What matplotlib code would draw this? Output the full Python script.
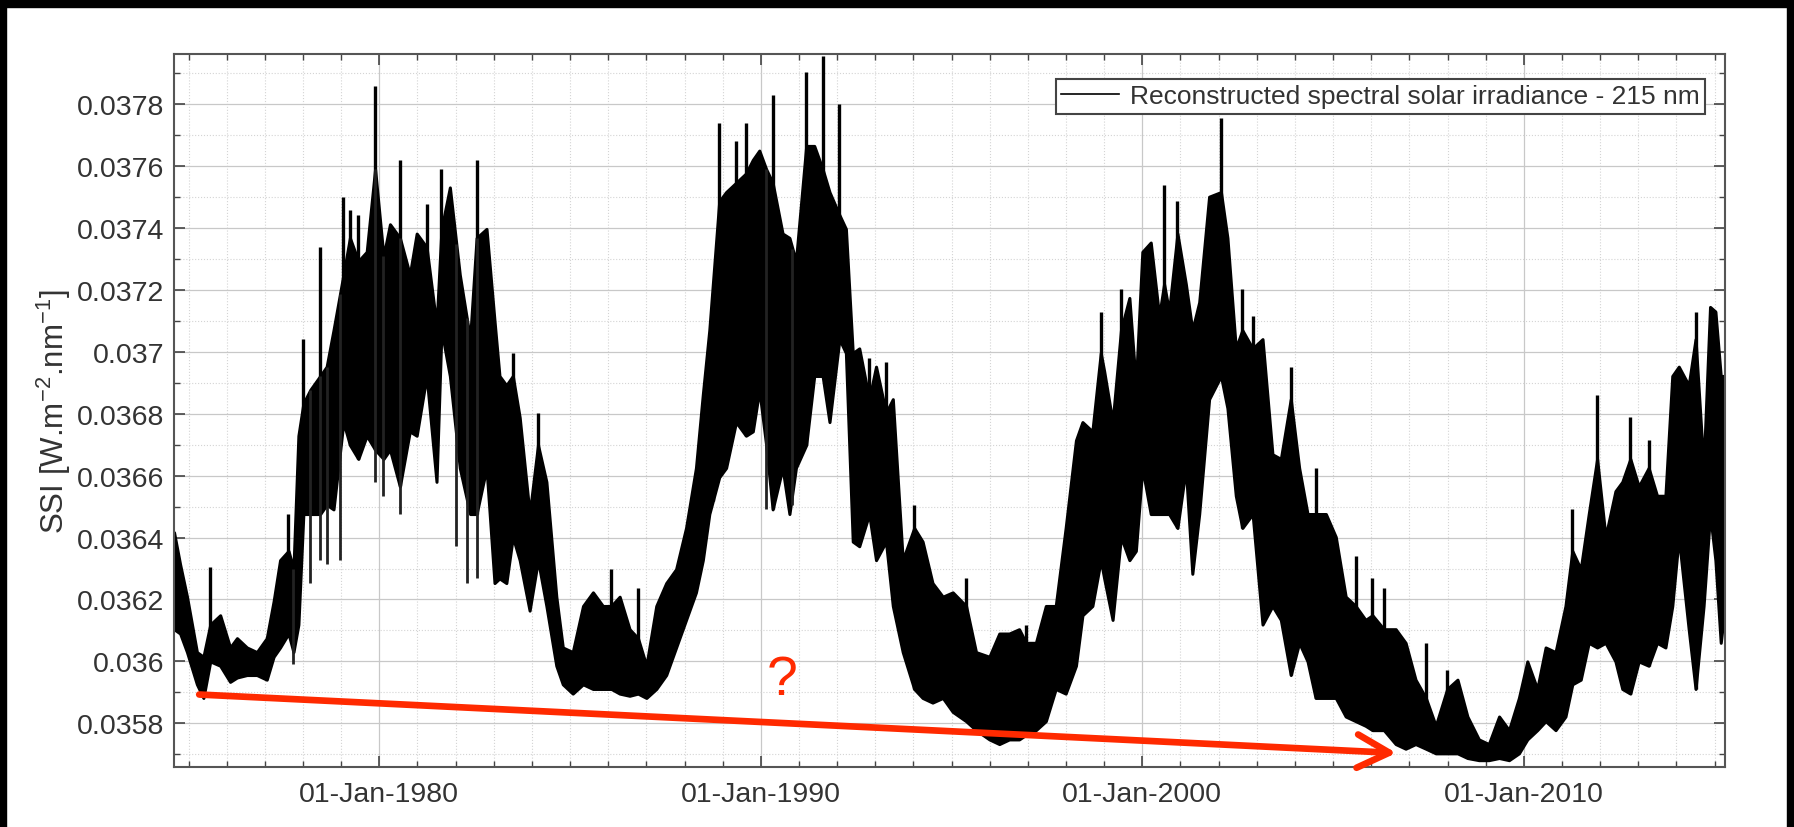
import numpy as np
import matplotlib.pyplot as plt
from matplotlib.patches import Rectangle
from matplotlib.lines import Line2D

plt.rcParams['font.family'] = ['Liberation Sans', 'DejaVu Sans']
plt.rcParams['mathtext.fontset'] = 'custom'
plt.rcParams['mathtext.rm'] = 'Liberation Sans'
plt.rcParams['mathtext.it'] = 'Liberation Sans'

# band of the daily series: decimal year, lower and upper edge [W.m-2.nm-1]
years = [1974.62, 1974.78, 1974.96, 1975.22, 1975.39, 1975.57, 1975.83, 1976.09, 1976.27, 1976.53,
         1976.79, 1977.05, 1977.23, 1977.40, 1977.62, 1977.75, 1977.88, 1978.01, 1978.19, 1978.45,
         1978.62, 1978.80, 1979.06, 1979.23, 1979.45, 1979.67, 1979.89, 1980.11, 1980.28, 1980.54,
         1980.80, 1980.98, 1981.24, 1981.50, 1981.63, 1981.85, 1982.11, 1982.38, 1982.55, 1982.81,
         1983.02, 1983.15, 1983.33, 1983.50, 1983.68, 1983.94, 1984.16, 1984.38, 1984.64, 1984.81,
         1985.07, 1985.34, 1985.60, 1985.86, 1986.08, 1986.30, 1986.56, 1986.78, 1987.00, 1987.26,
         1987.52, 1987.78, 1988.04, 1988.30, 1988.48, 1988.65, 1988.91, 1989.09, 1989.35, 1989.61,
         1989.79, 1989.96, 1990.14, 1990.31, 1990.57, 1990.75, 1990.92, 1991.19, 1991.40, 1991.62,
         1991.80, 1992.06, 1992.23, 1992.41, 1992.58, 1992.84, 1993.02, 1993.28, 1993.46, 1993.72,
         1994.02, 1994.24, 1994.50, 1994.77, 1995.03, 1995.38, 1995.64, 1995.99, 1996.25, 1996.51,
         1996.77, 1996.95, 1997.21, 1997.47, 1997.73, 1997.99, 1998.26, 1998.43, 1998.69, 1998.91,
         1999.00, 1999.22, 1999.44, 1999.66, 1999.83, 2000.00, 2000.22, 2000.44, 2000.57, 2000.70,
         2000.92, 2001.14, 2001.31, 2001.49, 2001.75, 2002.06, 2002.23, 2002.45, 2002.62, 2002.89,
         2003.15, 2003.41, 2003.63, 2003.89, 2004.11, 2004.33, 2004.54, 2004.81, 2005.07, 2005.33,
         2005.59, 2005.85, 2006.03, 2006.33, 2006.64, 2006.90, 2007.16, 2007.43, 2007.69, 2007.99,
         2008.26, 2008.52, 2008.82, 2009.08, 2009.35, 2009.61, 2009.87, 2010.09, 2010.35, 2010.57,
         2010.83, 2011.09, 2011.27, 2011.49, 2011.70, 2011.92, 2012.14, 2012.40, 2012.58, 2012.79,
         2013.01, 2013.27, 2013.49, 2013.71, 2013.89, 2014.06, 2014.32, 2014.50, 2014.71, 2014.88,
         2015.02, 2015.16, 2015.27]

ssi_high = [0.036417, 0.036313, 0.036209, 0.036030, 0.036015, 0.036119, 0.036149, 0.036045, 0.036075, 0.036045,
            0.036030, 0.036075, 0.036194, 0.036327, 0.036357, 0.036298, 0.036729, 0.036833, 0.036877, 0.036922,
            0.036952, 0.037070, 0.037249, 0.037368, 0.037293, 0.037323, 0.037590, 0.037308, 0.037412, 0.037368,
            0.037249, 0.037382, 0.037338, 0.037085, 0.037397, 0.037531, 0.037249, 0.037041, 0.037368, 0.037397,
            0.037100, 0.036922, 0.036892, 0.036922, 0.036788, 0.036476, 0.036699, 0.036580, 0.036209, 0.036045,
            0.036030, 0.036179, 0.036223, 0.036179, 0.036179, 0.036209, 0.036104, 0.036075, 0.035986, 0.036179,
            0.036253, 0.036298, 0.036431, 0.036625, 0.036862, 0.037070, 0.037486, 0.037516, 0.037546, 0.037576,
            0.037620, 0.037650, 0.037590, 0.037546, 0.037382, 0.037368, 0.037293, 0.037665, 0.037665, 0.037590,
            0.037516, 0.037442, 0.037397, 0.036996, 0.037011, 0.036847, 0.036952, 0.036803, 0.036847, 0.036327,
            0.036431, 0.036387, 0.036253, 0.036209, 0.036223, 0.036179, 0.036030, 0.036015, 0.036090, 0.036090,
            0.036104, 0.036060, 0.036060, 0.036179, 0.036179, 0.036431, 0.036714, 0.036773, 0.036743, 0.036996,
            0.036937, 0.036773, 0.037070, 0.037174, 0.036892, 0.037323, 0.037353, 0.037115, 0.037219, 0.037130,
            0.037382, 0.037219, 0.037070, 0.037160, 0.037501, 0.037516, 0.037368, 0.037011, 0.037070, 0.037011,
            0.037041, 0.036669, 0.036654, 0.036847, 0.036625, 0.036476, 0.036476, 0.036476, 0.036402, 0.036209,
            0.036179, 0.036134, 0.036149, 0.036104, 0.036104, 0.036060, 0.035941, 0.035882, 0.035792, 0.035911,
            0.035941, 0.035822, 0.035748, 0.035733, 0.035822, 0.035778, 0.035882, 0.036000, 0.035911, 0.036045,
            0.036030, 0.036179, 0.036357, 0.036298, 0.036476, 0.036654, 0.036402, 0.036550, 0.036580, 0.036654,
            0.036565, 0.036625, 0.036535, 0.036535, 0.036922, 0.036952, 0.036892, 0.037041, 0.036625, 0.037145,
            0.037130, 0.036922, 0.036922]

ssi_low = [0.036104, 0.036090, 0.036030, 0.035926, 0.035882, 0.036000, 0.035986, 0.035934, 0.035948, 0.035956,
           0.035956, 0.035941, 0.036015, 0.036045, 0.036090, 0.036030, 0.036119, 0.036476, 0.036476, 0.036476,
           0.036506, 0.036491, 0.036773, 0.036699, 0.036654, 0.036729, 0.036684, 0.036654, 0.036684, 0.036565,
           0.036743, 0.036729, 0.036922, 0.036580, 0.037070, 0.036922, 0.036625, 0.036476, 0.036476, 0.036625,
           0.036253, 0.036268, 0.036253, 0.036402, 0.036327, 0.036164, 0.036327, 0.036179, 0.035986, 0.035926,
           0.035896, 0.035926, 0.035911, 0.035911, 0.035911, 0.035896, 0.035889, 0.035896, 0.035882, 0.035911,
           0.035956, 0.036045, 0.036134, 0.036223, 0.036327, 0.036476, 0.036595, 0.036625, 0.036773, 0.036729,
           0.036743, 0.036877, 0.036699, 0.036491, 0.036625, 0.036476, 0.036625, 0.036699, 0.036922, 0.036922,
           0.036773, 0.037041, 0.036996, 0.036387, 0.036372, 0.036476, 0.036327, 0.036387, 0.036179, 0.036030,
           0.035911, 0.035882, 0.035867, 0.035882, 0.035837, 0.035807, 0.035778, 0.035748, 0.035733, 0.035748,
           0.035748, 0.035763, 0.035778, 0.035807, 0.035911, 0.035896, 0.035986, 0.036149, 0.036179, 0.036327,
           0.036268, 0.036134, 0.036402, 0.036327, 0.036357, 0.036625, 0.036476, 0.036476, 0.036476, 0.036476,
           0.036431, 0.036625, 0.036283, 0.036476, 0.036847, 0.036922, 0.036818, 0.036535, 0.036431, 0.036476,
           0.036119, 0.036179, 0.036134, 0.035956, 0.036060, 0.036000, 0.035882, 0.035882, 0.035882, 0.035822,
           0.035807, 0.035792, 0.035778, 0.035778, 0.035733, 0.035718, 0.035733, 0.035718, 0.035703, 0.035703,
           0.035703, 0.035688, 0.035681, 0.035681, 0.035688, 0.035681, 0.035703, 0.035748, 0.035778, 0.035807,
           0.035778, 0.035822, 0.035926, 0.035941, 0.036060, 0.036045, 0.036060, 0.036000, 0.035911, 0.035896,
           0.036000, 0.035986, 0.036060, 0.036045, 0.036179, 0.036402, 0.036104, 0.035911, 0.036179, 0.036476,
           0.036327, 0.036060, 0.036179]

# isolated daily peaks above the band
spike_years = [1975.57, 1977.62, 1978.01, 1978.45, 1979.06, 1979.23, 1979.45, 1979.89, 1980.54, 1981.24,
               1981.63, 1982.55, 1983.50, 1984.16, 1986.08, 1986.78, 1988.74, 1988.91, 1989.35, 1989.61,
               1990.31, 1991.19, 1991.62, 1992.06, 1992.84, 1993.28, 1994.02, 1995.38, 1996.95, 1998.91,
               1999.44, 2000.57, 2000.92, 2002.06, 2002.62, 2002.89, 2003.89, 2004.54, 2005.59, 2006.03,
               2006.33, 2007.43, 2007.99, 2011.27, 2011.92, 2012.79, 2013.27, 2014.50]
spike_tops = [0.036305, 0.036476, 0.037041, 0.037338, 0.037501, 0.037457, 0.037442, 0.037858, 0.037620, 0.037479,
              0.037590, 0.037620, 0.036996, 0.036803, 0.036298, 0.036238, 0.037189, 0.037739, 0.037680, 0.037739,
              0.037828, 0.037903, 0.037955, 0.037799, 0.036981, 0.036966, 0.036506, 0.036268, 0.036119, 0.037130,
              0.037204, 0.037538, 0.037486, 0.037754, 0.037204, 0.037115, 0.036952, 0.036625, 0.036342, 0.036268,
              0.036238, 0.036060, 0.035971, 0.036491, 0.036862, 0.036788, 0.036714, 0.037130]

# isolated daily lows below the band
dip_years = [1977.75, 1978.19, 1978.45, 1978.62, 1978.97, 1979.89, 1980.11, 1980.54, 1982.02, 1982.29,
             1982.55, 1990.14, 1990.83]
dip_bottoms = [0.035993, 0.036253, 0.036327, 0.036313, 0.036327, 0.036580, 0.036535, 0.036476, 0.036372, 0.036253,
               0.036268, 0.036491, 0.036506]

tick_years = [1980, 1990, 2000, 2010]
tick_labels = ['01-Jan-1980', '01-Jan-1990', '01-Jan-2000', '01-Jan-2010']
ssi_ticks = [0.0358, 0.036, 0.0362, 0.0364, 0.0366, 0.0368, 0.037, 0.0372, 0.0374, 0.0376, 0.0378]

# hand-drawn annotation: arrow between the two minima, and a question mark
arrow_start = (1975.28, 0.035893)
arrow_end = (2006.66, 0.035704)
question_pos = (1990.55, 0.035895)

fig = plt.figure(figsize=(17.94, 8.28), dpi=100)
ax = fig.add_axes([0.097, 0.0725, 0.8645, 0.8611])

ax.fill_between(years, ssi_low, ssi_high, color='k', lw=2.2)
ax.vlines(spike_years, np.interp(spike_years, years, ssi_low), spike_tops, color='k', lw=2.4)
ax.vlines(dip_years, dip_bottoms, np.interp(dip_years, years, ssi_high), color='#222222', lw=2.0)

ax.set_xlim(1974.62, 2015.27)
ax.set_ylim(0.035659, 0.037962)
ax.set_xticks(tick_years)
ax.set_xticklabels(tick_labels)
ax.set_xticks(np.arange(1975, 2016), minor=True)
ax.set_yticks(ssi_ticks)
ax.set_yticklabels(['%g' % v for v in ssi_ticks])
ax.set_yticks(np.arange(0.0357, 0.0380, 0.0002), minor=True)

ax.grid(True, which='major', color='#c8c8c8', lw=0.9, ls='-')
ax.grid(True, which='minor', color='#d4d4d4', lw=0.8, ls=':')
ax.set_axisbelow(True)
ax.tick_params(which='both', direction='in', top=True, right=True, colors='#444444',
               labelcolor='#333333', labelsize=20.5)
ax.tick_params(which='major', length=8, width=1.2)
ax.tick_params(which='minor', length=4, width=1.0)
ax.tick_params(axis='x', pad=10)
ax.tick_params(axis='y', pad=7)
for s in ax.spines.values():
    s.set_color('#555555')
    s.set_linewidth(1.5)

ax.set_ylabel('SSI [W.m$^{-2}$.nm$^{-1}$]', fontsize=22.5, color='#333333', labelpad=3)

leg = ax.legend([Line2D([], [], color='k', lw=1.2)],
                ['Reconstructed spectral solar irradiance - 215 nm'],
                loc='upper right', bbox_to_anchor=(1 - 20 / 1551, 1 - 25 / 713), borderaxespad=0,
                fontsize=19, handlelength=2.2, handletextpad=0.4, borderpad=0.2,
                fancybox=False, framealpha=1, edgecolor='#444444')
leg.get_frame().set_linewidth(1.5)
for t in leg.get_texts():
    t.set_color('#333333')

ax.annotate('', xy=arrow_end, xytext=arrow_start,
            arrowprops=dict(arrowstyle='->,head_length=1.15,head_width=0.6', color='#ff2a00',
                            lw=4.8, mutation_scale=20, shrinkA=0, shrinkB=0))
ax.text(question_pos[0], question_pos[1], '?', color='#ff2a00', fontsize=40,
        ha='center', va='baseline')

# black frame around the screenshot
for r in [(0, 1 - 8 / 828, 1, 8 / 828), (0, 0, 6 / 1794, 1), (1 - 7 / 1794, 0, 7 / 1794, 1)]:
    fig.patches.append(Rectangle(r[:2], r[2], r[3], transform=fig.transFigure,
                                 color='k', zorder=10))

plt.savefig('out.png', dpi=100)
plt.close()
